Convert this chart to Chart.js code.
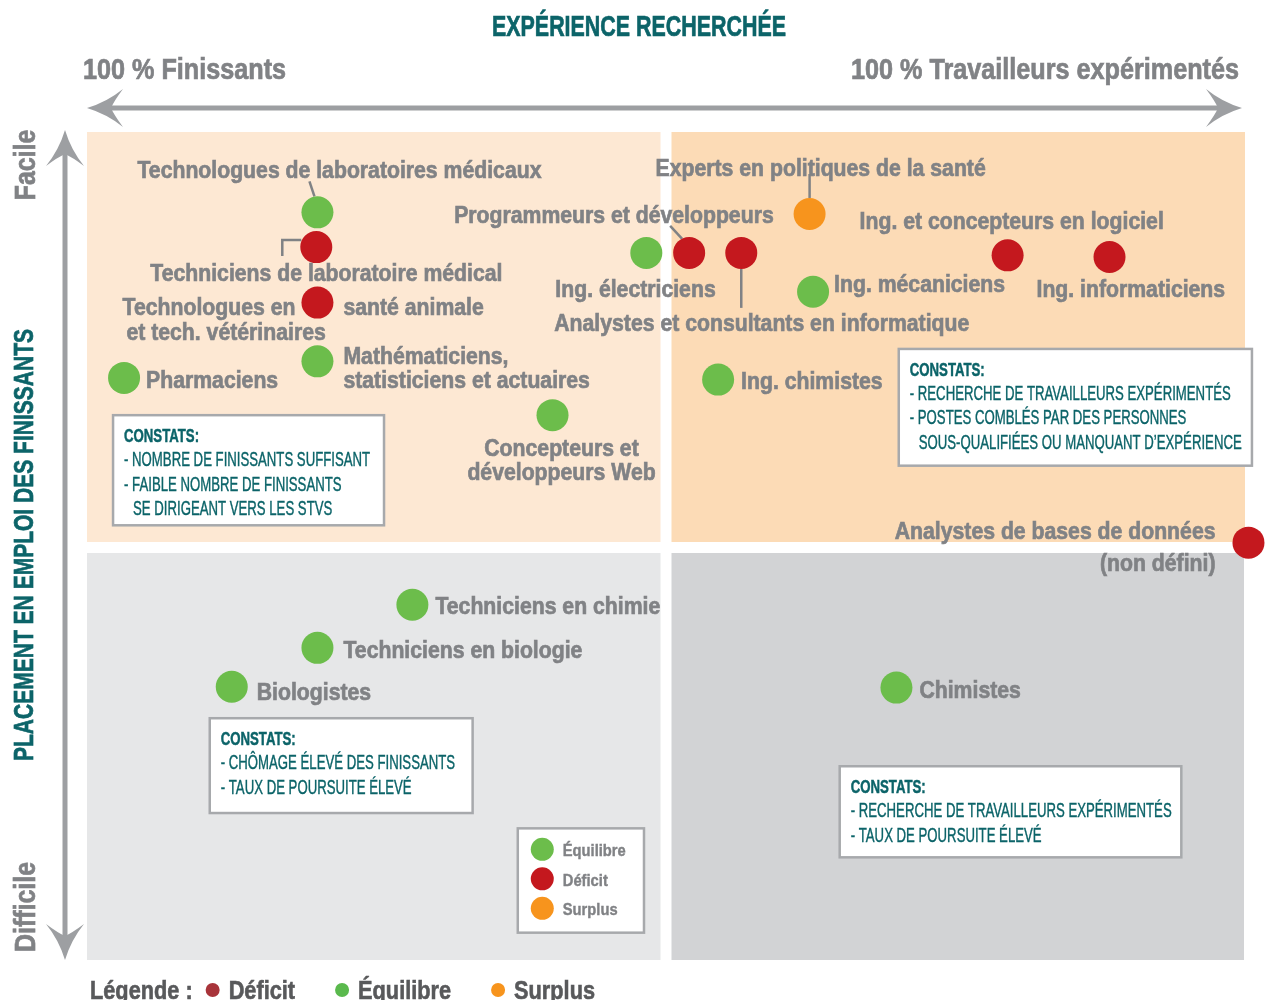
<!DOCTYPE html>
<html><head><meta charset="utf-8">
<script src="https://cdn.jsdelivr.net/npm/chart.js@4.4.1/dist/chart.umd.min.js"></script>
<style>html,body{margin:0;padding:0;background:#fff;overflow:hidden}canvas{display:block}</style>
</head><body>
<canvas id="c" width="1265" height="1000"></canvas>
<script>
// ---------------- DATA ----------------
const occupations = [
  'Technologues de laboratoires médicaux',
  'Techniciens de laboratoire médical',
  'Technologues en santé animale et tech. vétérinaires',
  'Mathématiciens, statisticiens et actuaires',
  'Pharmaciens',
  'Concepteurs et développeurs Web',
  'Ing. électriciens',
  'Programmeurs et développeurs',
  'Analystes et consultants en informatique',
  'Experts en politiques de la santé',
  'Ing. mécaniciens',
  'Ing. et concepteurs en logiciel',
  'Ing. informaticiens',
  'Ing. chimistes',
  'Analystes de bases de données (non défini)',
  'Techniciens en chimie',
  'Techniciens en biologie',
  'Biologistes',
  'Chimistes'
];
// x : expérience recherchée (0 = 100 % finissants, 100 = 100 % travailleurs expérimentés)
const experience = [19.9, 19.8, 19.9, 19.9, 3.2, 40.2, 48.3, 52.0, 56.5, 62.4, 62.7, 79.5, 88.3, 54.5, 100.3, 28.1, 19.9, 12.5, 69.9];
// y : placement en emploi des finissants (0 = difficile, 100 = facile)
const placement = [90.3, 86.1, 79.4, 72.3, 70.3, 65.8, 85.4, 85.4, 85.4, 90.1, 80.7, 85.1, 84.9, 70.1, 50.4, 42.9, 37.7, 33.0, 32.9];
const status = ['Équilibre','Déficit','Déficit','Équilibre','Équilibre','Équilibre','Équilibre','Déficit','Déficit','Surplus',
                'Équilibre','Déficit','Déficit','Équilibre','Déficit','Équilibre','Équilibre','Équilibre','Équilibre'];
const statusNames = ['Équilibre', 'Déficit', 'Surplus'];
const bottomLegendOrder = ['Déficit', 'Équilibre', 'Surplus'];

const titleTop = 'EXPÉRIENCE RECHERCHÉE';
const xLeftLabel = '100 % Finissants';
const xRightLabel = '100 % Travailleurs expérimentés';
const yTitle = 'PLACEMENT EN EMPLOI DES FINISSANTS';
const yTopLabel = 'Facile';
const yBottomLabel = 'Difficile';
const legendTitle = 'Légende :';
const constatsTitle = 'CONSTATS:';
const constatsTexts = [
  ['- NOMBRE DE FINISSANTS SUFFISANT', '- FAIBLE NOMBRE DE FINISSANTS', '  SE DIRIGEANT VERS LES STVS'],
  ['- RECHERCHE DE TRAVAILLEURS EXPÉRIMENTÉS', '- POSTES COMBLÉS PAR DES PERSONNES', '  SOUS-QUALIFIÉES OU MANQUANT D\u2019EXPÉRIENCE'],
  ['- CHÔMAGE ÉLEVÉ DES FINISSANTS', '- TAUX DE POURSUITE ÉLEVÉ'],
  ['- RECHERCHE DE TRAVAILLEURS EXPÉRIMENTÉS', '- TAUX DE POURSUITE ÉLEVÉ']
];

// ---------------- STYLE / LAYOUT ----------------
const COLORS = {
  'Équilibre': '#6cbd4b', 'Déficit': '#c4181e', 'Surplus': '#f7941d'
};
const BOTTOM_DOT = { 'Déficit': '#a8343a', 'Équilibre': '#5ab94d', 'Surplus': '#f7941d' };
const TEAL = '#0c6469';
const GRAY = '#808285';
const DARK = '#58595b';
const ARROW = '#9d9fa2';
const QUAD = { tl: '#fde8d3', tr: '#fcdbb6', bl: '#e6e7e8', br: '#d2d3d5' };
const FAM = '"Liberation Sans Narrow", "Liberation Sans", Arial, sans-serif';

// label placement: offsets (px) from the point centre
const labelLayout = [
  { i: 0,  parts: [['Technologues de laboratoires médicaux', -180, -43, 'left']], leader: [[-8, -31], [-3, -16]] },
  { i: 1,  parts: [['Techniciens de laboratoire médical', -166, 25, 'left']], leader: [[-34, 9], [-34, -7], [-15, -7]] },
  { i: 2,  parts: [['Technologues en', -22, 4, 'right'], ['santé animale', 26, 4, 'left'], ['et tech. vétérinaires', -191, 29, 'left']] },
  { i: 3,  parts: [['Mathématiciens,', 26, -6, 'left'], ['statisticiens et actuaires', 26, 18, 'left']] },
  { i: 4,  parts: [['Pharmaciens', 22, 1, 'left']] },
  { i: 5,  parts: [['Concepteurs et', 9, 32, 'center'], ['développeurs Web', 9, 56, 'center']] },
  { i: 6,  parts: [['Ing. électriciens', -91, 35, 'left']] },
  { i: 7,  parts: [['Programmeurs et développeurs', -235, -39, 'left']], leader: [[-19, -27], [-7, -14]] },
  { i: 8,  parts: [['Analystes et consultants en informatique', -187, 69, 'left']], leader: [[0, 16], [0, 55]] },
  { i: 9,  parts: [['Experts en politiques de la santé', -154, -47, 'left']], leader: [[0, -40], [0, -16]] },
  { i: 10, parts: [['Ing. mécaniciens', 21, -8, 'left']] },
  { i: 11, parts: [['Ing. et concepteurs en logiciel', -148, -35, 'left']] },
  { i: 12, parts: [['Ing. informaticiens', -73, 31, 'left']] },
  { i: 13, parts: [['Ing. chimistes', 23, 1, 'left']] },
  { i: 14, parts: [['Analystes de bases de données', -33, -12, 'right'], ['(non défini)', -33, 20, 'right']] },
  { i: 15, parts: [['Techniciens en chimie', 23, 1, 'left']] },
  { i: 16, parts: [['Techniciens en biologie', 26, 2, 'left']] },
  { i: 17, parts: [['Biologistes', 25, 5, 'left']] },
  { i: 18, parts: [['Chimistes', 23, 2, 'left']] }
];
// constats boxes, corners in data units
const constatsBoxes = [
  { x0: 2.25, y0: 65.8, x1: 25.65, y1: 52.5 },
  { x0: 70.1, y0: 73.8, x1: 100.6, y1: 59.7 },
  { x0: 10.6, y0: 29.2, x1: 33.3, y1: 17.75 },
  { x0: 65.0, y0: 23.4, x1: 94.5, y1: 12.4 }
];
const legendBox = { x0: 37.2, y0: 15.9, x1: 48.1, y1: 3.3 };

// ---------------- BUILD DATASETS ----------------
const datasets = statusNames.map(s => ({
  label: s,
  data: occupations.map((o, i) => status[i] === s ? { x: experience[i], y: placement[i], idx: i } : null).filter(Boolean),
  backgroundColor: COLORS[s],
  borderWidth: 0,
  pointRadius: 16,
  pointHoverRadius: 16,
  clip: false
}));

// ---------------- HELPERS ----------------
const S = {};
function calib(ctx) {
  if (S.ready) return;
  const fit = (font, sample, target) => { ctx.font = font; return target / ctx.measureText(sample).width; };
  S.label = { font: 'bold 24px ' + FAM, color: GRAY, stroke: 0.7 };
  S.label.sx = fit(S.label.font, 'Technologues de laboratoires médicaux', 404);
  S.boxT = { font: 'bold 19px ' + FAM, color: TEAL, stroke: 0.5 };
  S.boxT.sx = fit(S.boxT.font, 'CONSTATS:', 75);
  S.boxL = { font: '19.5px ' + FAM, color: TEAL, stroke: 0.4 };
  S.boxL.sx = fit(S.boxL.font, '- RECHERCHE DE TRAVAILLEURS EXPÉRIMENTÉS', 321);
  S.head = { font: 'bold 29px ' + FAM, color: TEAL, stroke: 0.7 };
  S.head.sx = fit(S.head.font, titleTop, 294);
  S.side = { font: 'bold 29px ' + FAM, color: GRAY, stroke: 0.7 };
  S.side.sx = fit(S.side.font, xRightLabel, 388);
  S.vt = { font: 'bold 27px ' + FAM, color: TEAL, stroke: 0.7 };
  S.vt.sx = fit(S.vt.font, yTitle, 432);
  S.vs = { font: 'bold 29px ' + FAM, color: GRAY, stroke: 0.7 };
  S.vs.sx = fit(S.vs.font, yBottomLabel, 90);
  S.leg = { font: 'bold 17px ' + FAM, color: GRAY, stroke: 0.4 };
  S.leg.sx = fit(S.leg.font, 'Équilibre', 63);
  S.bl = { font: 'bold 25px ' + FAM, color: DARK, stroke: 0.6 };
  S.bl.sx = fit(S.bl.font, 'Équilibre', 93);
  S.ready = true;
}
const YOFF = 2;
function txt(ctx, s, x, y, st, align, rot) {
  ctx.save();
  ctx.font = st.font; ctx.fillStyle = st.color; ctx.textBaseline = 'middle';
  ctx.textAlign = align || 'left';
  ctx.translate(x, y);
  if (rot) ctx.rotate(rot);
  ctx.scale(st.sx, 1);
  ctx.fillText(s, 0, YOFF);
  if (st.stroke) { ctx.strokeStyle = st.color; ctx.lineWidth = st.stroke; ctx.strokeText(s, 0, YOFF); }
  ctx.restore();
}
function tw(ctx, s, st) { ctx.font = st.font; return ctx.measureText(s).width * st.sx; }
function arrowHead(ctx, tx, ty, ang) {
  ctx.save();
  ctx.translate(tx, ty); ctx.rotate(ang);
  ctx.beginPath();
  ctx.moveTo(0, 0);
  ctx.quadraticCurveTo(20, -6, 36, -19);
  ctx.quadraticCurveTo(27, -7, 24, 0);
  ctx.quadraticCurveTo(27, 7, 36, 19);
  ctx.quadraticCurveTo(20, 6, 0, 0);
  ctx.closePath();
  ctx.fillStyle = ARROW; ctx.fill();
  ctx.restore();
}

// ---------------- PLUGIN ----------------
const quadrantPlugin = {
  id: 'quadrants',
  beforeDraw(chart) {
    const ctx = chart.ctx, a = chart.chartArea, xs = chart.scales.x, ys = chart.scales.y;
    calib(ctx);
    ctx.save();
    ctx.fillStyle = '#ffffff'; ctx.fillRect(0, 0, chart.width, chart.height);
    const xm = xs.getPixelForValue(50), ym = ys.getPixelForValue(50) + 1.5, g = 5.5;
    ctx.fillStyle = QUAD.tl; ctx.fillRect(a.left, a.top, xm - g - a.left, ym - g - a.top);
    ctx.fillStyle = QUAD.tr; ctx.fillRect(xm + g, a.top, a.right - xm - g, ym - g - a.top);
    ctx.fillStyle = QUAD.bl; ctx.fillRect(a.left, ym + g, xm - g - a.left, a.bottom - ym - g);
    ctx.fillStyle = QUAD.br; ctx.fillRect(xm + g, ym + g, a.right - 1 - xm - g, a.bottom - ym - g);

    // horizontal arrow
    const hy = a.top - 24;
    ctx.fillStyle = ARROW;
    ctx.fillRect(a.left + 20, hy - 2.5, a.right - a.left - 43, 5);
    arrowHead(ctx, a.left, hy, 0);
    arrowHead(ctx, a.right - 3, hy, Math.PI);
    // vertical arrow
    const vx = a.left - 22;
    ctx.fillRect(vx - 2.5, a.top + 18, 5, a.bottom - a.top - 36);
    arrowHead(ctx, vx, a.top - 2, Math.PI / 2);
    arrowHead(ctx, vx, a.bottom, -Math.PI / 2);

    // header texts
    txt(ctx, titleTop, (a.left + a.right) / 2 - 27, 26, S.head, 'center');
    txt(ctx, xLeftLabel, a.left - 4, 69, S.side, 'left');
    txt(ctx, xRightLabel, a.right - 6, 69, S.side, 'right');
    // vertical texts
    txt(ctx, yTopLabel, 25, a.top + 33, S.vs, 'center', -Math.PI / 2);
    txt(ctx, yBottomLabel, 25, a.bottom - 53, S.vs, 'center', -Math.PI / 2);
    txt(ctx, yTitle, 24, ys.getPixelForValue(50) - 1, S.vt, 'center', -Math.PI / 2);

    // constats boxes
    constatsBoxes.forEach((b, k) => {
      const l = xs.getPixelForValue(b.x0), t = ys.getPixelForValue(b.y0);
      const r = xs.getPixelForValue(b.x1), bt = ys.getPixelForValue(b.y1);
      ctx.fillStyle = '#ffffff'; ctx.fillRect(l, t, r - l, bt - t);
      ctx.strokeStyle = '#a7a9ac'; ctx.lineWidth = 2.5; ctx.strokeRect(l, t, r - l, bt - t);
      txt(ctx, constatsTitle, l + 11, t + 19.5, S.boxT);
      constatsTexts[k].forEach((line, j) => {
        const ind = line.startsWith('  ');
        txt(ctx, ind ? line.trim() : line, l + 11 + (ind ? 9 : 0), t + 43.5 + j * 24.5, S.boxL);
      });
    });

    // legend box
    {
      const l = xs.getPixelForValue(legendBox.x0), t = ys.getPixelForValue(legendBox.y0);
      const r = xs.getPixelForValue(legendBox.x1), bt = ys.getPixelForValue(legendBox.y1);
      ctx.fillStyle = '#ffffff'; ctx.fillRect(l, t, r - l, bt - t);
      ctx.strokeStyle = '#a7a9ac'; ctx.lineWidth = 2.5; ctx.strokeRect(l, t, r - l, bt - t);
      statusNames.forEach((s, j) => {
        const cy = t + 21 + j * 29.5;
        ctx.beginPath(); ctx.arc(l + 24.5, cy, 11.5, 0, Math.PI * 2);
        ctx.fillStyle = COLORS[s]; ctx.fill();
        txt(ctx, s, l + 45, cy, S.leg);
      });
    }

    // bottom legend
    {
      const cy = a.bottom + 30;
      let x = a.left + 3;
      txt(ctx, legendTitle, x, cy, S.bl);
      x += tw(ctx, legendTitle, S.bl) + 20;
      bottomLegendOrder.forEach(s => {
        ctx.beginPath(); ctx.arc(x, cy, 7, 0, Math.PI * 2);
        ctx.fillStyle = BOTTOM_DOT[s]; ctx.fill();
        x += 16;
        txt(ctx, s, x, cy, S.bl);
        x += tw(ctx, s, S.bl) + 47;
      });
    }

    // leader lines
    ctx.strokeStyle = GRAY; ctx.lineWidth = 2.5; ctx.lineJoin = 'miter';
    labelLayout.forEach(L => {
      if (!L.leader) return;
      const px = xs.getPixelForValue(experience[L.i]), py = ys.getPixelForValue(placement[L.i]);
      ctx.beginPath();
      L.leader.forEach((p, j) => j ? ctx.lineTo(px + p[0], py + p[1]) : ctx.moveTo(px + p[0], py + p[1]));
      ctx.stroke();
    });
    ctx.restore();
  },
  afterDatasetsDraw(chart) {
    const ctx = chart.ctx, xs = chart.scales.x, ys = chart.scales.y;
    labelLayout.forEach(L => {
      const px = xs.getPixelForValue(experience[L.i]), py = ys.getPixelForValue(placement[L.i]);
      L.parts.forEach(p => txt(ctx, p[0], px + p[1], py + p[2], S.label, p[3]));
    });
  }
};

new Chart(document.getElementById('c'), {
  type: 'scatter',
  data: { datasets },
  options: {
    responsive: false,
    animation: false,
    devicePixelRatio: 1,
    layout: { padding: { left: 87, right: 20, top: 132, bottom: 40 } },
    scales: {
      x: { type: 'linear', min: 0, max: 100, display: false },
      y: { type: 'linear', min: 0, max: 100, display: false }
    },
    plugins: { legend: { display: false }, tooltip: { enabled: false } },
    events: []
  },
  plugins: [quadrantPlugin]
});
</script>
</body></html>
